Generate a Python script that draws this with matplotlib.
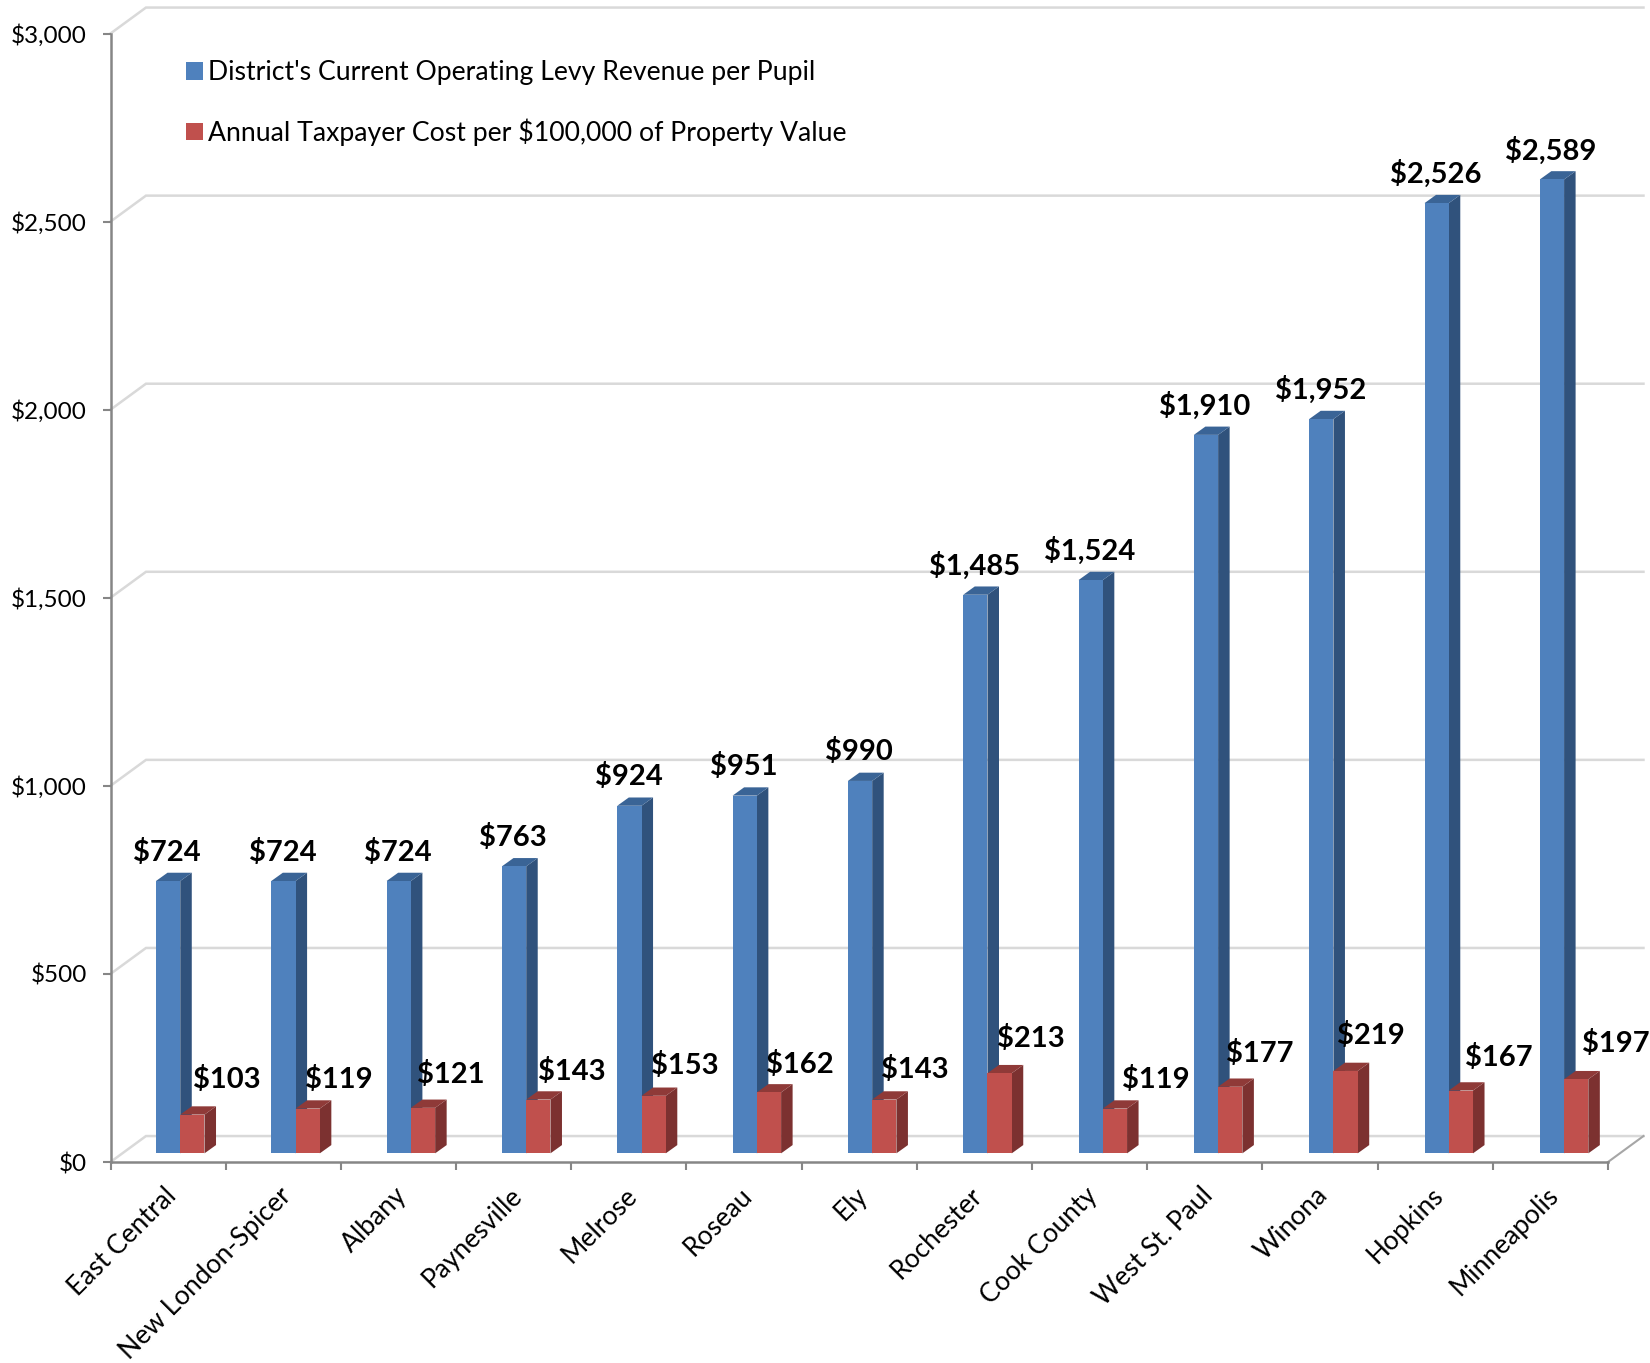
import numpy as np
import matplotlib
matplotlib.use('Agg')
import matplotlib.pyplot as plt
from matplotlib.patches import Patch, Polygon, Rectangle

plt.rcParams['font.family'] = ['Lato', 'DejaVu Sans']

districts = ['East Central', 'New London-Spicer', 'Albany', 'Paynesville', 'Melrose', 'Roseau', 'Ely',
             'Rochester', 'Cook County', 'West St. Paul', 'Winona', 'Hopkins', 'Minneapolis']
levy_per_pupil = [724, 724, 724, 763, 924, 951, 990, 1485, 1524, 1910, 1952, 2526, 2589]
taxpayer_cost = [103, 119, 121, 143, 153, 162, 143, 213, 119, 177, 219, 167, 197]
y_ticks = [0, 500, 1000, 1500, 2000, 2500, 3000]

# hand placed red labels in the original, (dx, dy) in pixels from the bar top
red_label_dx = [34, 31, 28, 33, 31, 31, 31, 31, 41, 30, 25, 38, 40]
red_label_dy = [35, 29, 33, 28, 30, 28, 30, 35, 29, 33, 35, 33, 36]

W, H = 1650, 1363
LEFT, RIGHT, TOP, BOTTOM = 110.5, 1608.0, 33.5, 1162.0

# fake 3d offsets, in data units
WALL_DX, WALL_DY = 0.308, 69
BAR_DX, BAR_DY = 0.1, 22
BAR_BASE = 23
BLUE_X, BAR_PITCH, BAR_W = 0.395, 1.0011, 0.2105

fig = plt.figure(figsize=(W / 100, H / 100), dpi=100)
ax = fig.add_axes([LEFT / W, 1 - BOTTOM / H, (RIGHT - LEFT) / W, (BOTTOM - TOP) / H])
ax.set_xlim(0, len(districts))
ax.set_ylim(0, 3000)


def draw_bar(x, value, front, top, side):
    y0, y1 = BAR_BASE, BAR_BASE + value
    ax.add_patch(Polygon([(x + BAR_W, y0), (x + BAR_W + BAR_DX, y0 + BAR_DY),
                          (x + BAR_W + BAR_DX, y1 + BAR_DY), (x + BAR_W, y1)],
                         facecolor=side, edgecolor='none', clip_on=False, zorder=3))
    ax.add_patch(Polygon([(x, y1), (x + BAR_DX, y1 + BAR_DY),
                          (x + BAR_W + BAR_DX, y1 + BAR_DY), (x + BAR_W, y1)],
                         facecolor=top, edgecolor='none', clip_on=False, zorder=3))
    ax.add_patch(Rectangle((x, y0), BAR_W, value, facecolor=front, edgecolor='none', clip_on=False, zorder=3))


# back wall and floor
for v in y_ticks:
    ax.plot([0, WALL_DX, len(districts) + WALL_DX], [v, v + WALL_DY, v + WALL_DY],
            color='#D9D9D9', lw=1.8, clip_on=False, zorder=1, solid_joinstyle='miter')
ax.plot([len(districts), len(districts) + WALL_DX], [0, WALL_DY], color='#A6A6A6', lw=1.5, clip_on=False, zorder=1)

for i in range(len(districts)):
    bx = BLUE_X + i * BAR_PITCH
    rx = bx + BAR_W
    draw_bar(bx, levy_per_pupil[i], '#4F81BD', '#3A6496', '#30527C')
    draw_bar(rx, taxpayer_cost[i], '#C0504D', '#8F3A38', '#7C3130')

    ax.annotate(f'${levy_per_pupil[i]:,}', (bx + BAR_W / 2, BAR_BASE + levy_per_pupil[i]),
                xytext=(-1, 29), textcoords='offset pixels', ha='center', va='center',
                fontsize=21, fontweight='bold', color='black', zorder=5, annotation_clip=False)
    ax.annotate(f'${taxpayer_cost[i]}', (rx + BAR_W / 2, BAR_BASE + taxpayer_cost[i]),
                xytext=(red_label_dx[i], red_label_dy[i]), textcoords='offset pixels', ha='center', va='center',
                fontsize=21, fontweight='bold', color='black', zorder=5, annotation_clip=False)

for name in ['top', 'right']:
    ax.spines[name].set_visible(False)
for name in ['left', 'bottom']:
    ax.spines[name].set_color('#868686')
    ax.spines[name].set_linewidth(1.8)

ax.set_yticks(y_ticks)
ax.set_yticklabels([f'${v:,}' for v in y_ticks], fontsize=17.5, color='black', va='center_baseline')
ax.tick_params(axis='y', length=5.5, width=1.5, color='#868686', pad=11.5)

ax.set_xticks(np.arange(len(districts) + 1))
ax.set_xticklabels([])
ax.tick_params(axis='x', which='major', length=5.5, width=1.5, color='#868686')
ax.set_xticks(np.arange(len(districts)) + 0.46, minor=True)
ax.set_xticklabels(districts, minor=True, rotation=45, ha='right', va='top', rotation_mode='anchor',
                   fontsize=19, color='black')
ax.tick_params(axis='x', which='minor', length=0, pad=15)

handles = [Patch(facecolor='#4F81BD', label="District's Current Operating Levy Revenue per Pupil"),
           Patch(facecolor='#C0504D', label='Annual Taxpayer Cost per $100,000 of Property Value')]
ax.legend(handles=handles, loc='upper left', bbox_to_anchor=(181 / W, 1 - 55 / H), bbox_transform=fig.transFigure,
          frameon=False, fontsize=19.2, handlelength=0.63, handleheight=0.63, handletextpad=0.2,
          labelspacing=1.23, borderpad=0.2, borderaxespad=0)

fig.savefig('out.png', dpi=100)
